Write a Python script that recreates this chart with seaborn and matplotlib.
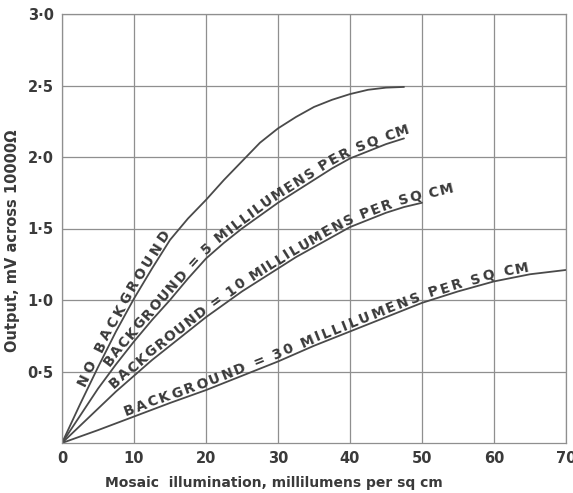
import numpy as np
import pandas as pd
import seaborn as sns
import matplotlib
matplotlib.use('Agg')
import matplotlib.pyplot as plt
from matplotlib.font_manager import FontProperties
from matplotlib.transforms import IdentityTransform

# values
x_none = [0, 2.5, 5, 7.5, 10, 12.5, 15, 17.5, 20, 22.5, 25, 27.5, 30, 32.5, 35, 37.5, 40, 42.5, 45, 47.5]
y_none = [0, 0.27, 0.53, 0.78, 1.01, 1.22, 1.42, 1.57, 1.70, 1.84, 1.97, 2.10, 2.20, 2.28, 2.35, 2.40, 2.44, 2.47, 2.485, 2.49]

x_5 = [0, 2.5, 5, 7.5, 10, 12.5, 15, 17.5, 20, 22.5, 25, 27.5, 30, 32.5, 35, 37.5, 40, 42.5, 45, 47.5]
y_5 = [0, 0.19, 0.38, 0.55, 0.71, 0.86, 1.0, 1.15, 1.29, 1.40, 1.50, 1.59, 1.68, 1.76, 1.84, 1.92, 1.99, 2.04, 2.09, 2.13]

x_10 = [0, 2.5, 5, 7.5, 10, 12.5, 15, 17.5, 20, 22.5, 25, 27.5, 30, 32.5, 35, 37.5, 40, 42.5, 45, 47.5, 50]
y_10 = [0, 0.12, 0.24, 0.36, 0.47, 0.58, 0.68, 0.78, 0.88, 0.97, 1.06, 1.14, 1.22, 1.30, 1.37, 1.44, 1.51, 1.56, 1.61, 1.65, 1.68]

x_30 = [0, 5, 10, 15, 20, 25, 30, 35, 40, 45, 50, 55, 60, 65, 70]
y_30 = [0, 0.09, 0.185, 0.28, 0.37, 0.47, 0.57, 0.68, 0.78, 0.88, 0.98, 1.06, 1.13, 1.18, 1.21]

labels = ['NO BACKGROUND',
          'BACKGROUND = 5 MILLILUMENS PER SQ CM',
          'BACKGROUND = 10 MILLILUMENS PER SQ CM',
          'BACKGROUND = 30 MILLILUMENS PER SQ CM']
# where each label starts / ends along its curve (x units)
label_span = [(3.6, 15.5), (7.0, 48.5), (7.5, 54.5), (9.0, 65.0)]

x_ticks = [0, 10, 20, 30, 40, 50, 60, 70]
x_tick_labels = ['0', '10', '20', '30', '40', '50', '60', '70']
y_ticks = [0.5, 1.0, 1.5, 2.0, 2.5, 3.0]
y_tick_labels = ['0·5', '1·0', '1·5', '2·0', '2·5', '3·0']

curves = [(x_none, y_none), (x_5, y_5), (x_10, y_10), (x_30, y_30)]
df = pd.concat([pd.DataFrame({'x': xs, 'y': ys, 'curve': lab})
                for (xs, ys), lab in zip(curves, labels)])

sns.set_style('white')
plt.rcParams['font.family'] = ['DejaVu Sans']
ink = '#3a3a3a'

fig = plt.figure(figsize=(5.73, 4.93), dpi=100)
ax = fig.add_axes([62 / 573, 1 - 443 / 493, 504 / 573, 429 / 493])

sns.lineplot(data=df, x='x', y='y', units='curve', estimator=None,
             color='#4a4a4a', lw=1.3, ax=ax)

ax.set_xlim(0, 70)
ax.set_ylim(0, 3.0)
ax.set_xticks(x_ticks)
ax.set_xticklabels(x_tick_labels)
ax.set_yticks(y_ticks)
ax.set_yticklabels(y_tick_labels)
ax.tick_params(length=0, labelsize=10.5, labelcolor=ink, pad=6)
for t in ax.get_xticklabels() + ax.get_yticklabels():
    t.set_fontweight('bold')
ax.grid(True, color='#8f8f8f', lw=0.9)
for sp in ax.spines.values():
    sp.set_color('#8f8f8f')
    sp.set_linewidth(0.9)

ax.set_xlabel('Mosaic  illumination, millilumens per sq cm', fontsize=10,
              fontweight='bold', color=ink)
ax.set_ylabel('Output, mV across 10000Ω', fontsize=10.5, fontweight='bold', color=ink)
ax.xaxis.set_label_coords((274 - 62) / 504, -0.077)
ax.yaxis.set_label_coords(-0.083, (443 - 241) / 429)

# text that follows a curve
renderer = fig.canvas.get_renderer()
fp = FontProperties(family='DejaVu Sans', weight='bold', size=10)


def text_width(t):
    return renderer.get_text_width_height_descent(t, fp, ismath=False)[0]


def curve_text(xs, ys, text, xa, xb, gap=3):
    pts = ax.transData.transform(np.column_stack([xs, ys]))
    seg = np.hypot(*np.diff(pts, axis=0).T)
    s = np.concatenate([[0], np.cumsum(seg)])

    def arc(xv):
        if xv <= xs[-1]:
            return np.interp(xv, xs, s)
        return s[-1] + (xv - xs[-1]) * seg[-1] / (xs[-1] - xs[-2])

    def point(m):
        i = int(np.clip(np.searchsorted(s, m) - 1, 0, len(seg) - 1))
        t = (m - s[i]) / seg[i]
        return pts[i] + t * (pts[i + 1] - pts[i])

    base = text_width('II')
    widths = [text_width('I' + ch + 'I') - base for ch in text]
    sa, sb = arc(xa), arc(xb)
    spacing = (sb - sa - sum(widths)) / (len(text) - 1)
    pos = sa
    for ch, w in zip(text, widths):
        mid = pos + w / 2
        d = point(mid + 6) - point(mid - 6)
        u = d / np.hypot(*d)
        n = np.array([-u[1], u[0]])
        p = point(mid) + n * gap
        ang = np.degrees(np.arctan2(u[1], u[0]))
        fig.text(p[0], p[1], ch, transform=IdentityTransform(), fontproperties=fp,
                 color=ink, rotation=ang, rotation_mode='anchor',
                 ha='center', va='baseline')
        pos += w + spacing


for (xs, ys), lab, (xa, xb) in zip(curves, labels, label_span):
    curve_text(xs, ys, lab, xa, xb)

fig.savefig('out.png', dpi=100)
